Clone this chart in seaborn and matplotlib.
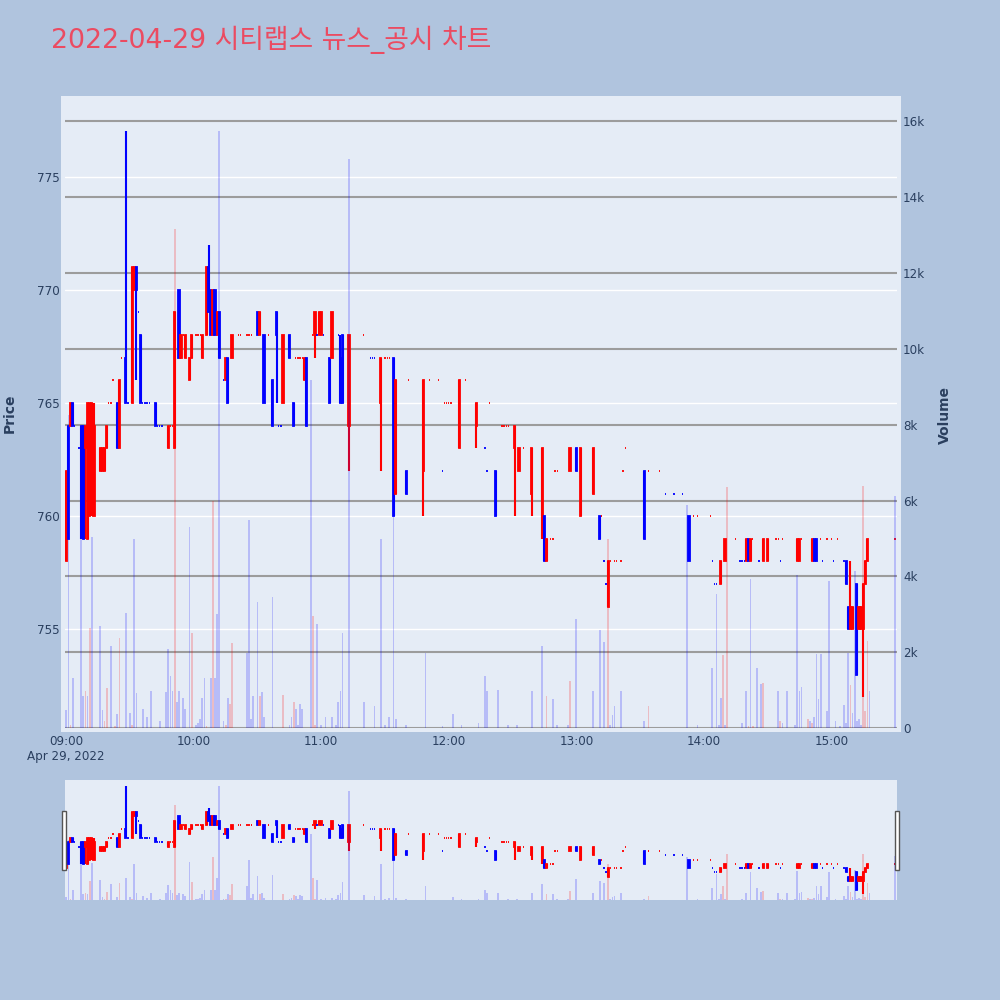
"""
Chart minute 시티랩스 2022-04-29 : chandeliers + volumes + range slider.
"""

import numpy as np
import pandas as pd
import matplotlib
matplotlib.use("Agg")
import matplotlib.pyplot as plt
import seaborn as sns
from matplotlib.patches import Rectangle

# ---------------------------------------------------------------------------
# DONNÉES
# ---------------------------------------------------------------------------

TITLE = "2022-04-29 시티랩스 뉴스_공시 차트"

# minutes depuis 09:00
TICK_MIN = [0, 60, 120, 180, 240, 300, 360]
TICK_LABELS = ["09:00\nApr 29, 2022", "10:00", "11:00", "12:00", "13:00", "14:00", "15:00"]
PRICE_TICKS = [755, 760, 765, 770, 775]
VOL_TICKS = [0, 2000, 4000, 6000, 8000, 10000, 12000, 14000, 16000]
VOL_LABELS = ["0", "2k", "4k", "6k", "8k", "10k", "12k", "14k", "16k"]

c_min = [0, 1, 2, 3, 4, 6, 7, 8, 9, 10,
         11, 12, 13, 16, 17, 18, 19, 20, 21, 22,
         24, 25, 26, 28, 29, 31, 32, 33, 34, 35,
         36, 37, 38, 39, 42, 43, 44, 45, 48, 49,
         50, 51, 53, 54, 55, 56, 58, 59, 61, 62,
         63, 64, 66, 67, 68, 69, 70, 71, 72, 74,
         75, 76, 78, 81, 82, 85, 86, 87, 90, 91,
         93, 95, 97, 99, 100, 101, 102, 105, 107, 108,
         109, 110, 111, 112, 113, 116, 117, 118, 119, 120,
         121, 124, 125, 128, 129, 130, 133, 140, 143, 144,
         145, 148, 150, 151, 152, 154, 155, 160, 161, 168,
         171, 175, 177, 178, 179, 180, 181, 185, 188, 193,
         197, 198, 199, 202, 205, 206, 207, 208, 211, 213,
         215, 219, 224, 225, 226, 228, 229, 230, 231, 237,
         240, 242, 248, 251, 252, 253, 254, 255, 256, 258,
         259, 261, 262, 263, 272, 274, 279, 282, 286, 290,
         293, 295, 297, 303, 304, 305, 306, 308, 310, 315,
         317, 318, 319, 320, 321, 322, 323, 326, 328, 330,
         334, 335, 336, 337, 344, 345, 346, 351, 352, 353,
         355, 356, 358, 360, 361, 363, 366, 367, 368, 369,
         370, 372, 373, 374, 375, 376, 377, 390]
c_open = [758, 764, 764, 765, 764, 763, 764, 764, 763, 759,
          760, 763, 760, 762, 762, 762, 763, 765, 765, 766,
          765, 763, 767, 767, 765, 765, 770, 771, 769, 768,
          765, 765, 765, 765, 765, 764, 764, 764, 763, 764,
          764, 763, 770, 767, 768, 767, 766, 767, 768, 768,
          768, 767, 768, 771, 770, 768, 770, 768, 769, 766,
          766, 767, 767, 768, 768, 768, 768, 768, 769, 768,
          768, 768, 766, 769, 764, 764, 765, 768, 765, 767,
          767, 767, 767, 766, 767, 768, 768, 768, 768, 768,
          768, 767, 767, 768, 767, 768, 764, 768, 767, 767,
          767, 765, 767, 767, 767, 767, 761, 762, 766, 762,
          766, 766, 762, 765, 765, 765, 765, 763, 766, 764,
          763, 762, 765, 762, 764, 764, 764, 764, 763, 762,
          763, 761, 760, 760, 758, 759, 759, 762, 762, 762,
          763, 760, 761, 760, 760, 758, 757, 756, 758, 758,
          758, 758, 762, 763, 762, 762, 762, 761, 761, 761,
          760, 760, 760, 760, 758, 757, 757, 757, 758, 759,
          758, 758, 758, 758, 759, 758, 759, 758, 758, 758,
          759, 759, 758, 759, 758, 758, 759, 758, 759, 759,
          759, 758, 759, 759, 758, 759, 758, 758, 756, 755,
          755, 757, 755, 755, 755, 757, 758, 759]
c_high = [762, 764, 765, 765, 764, 763, 764, 764, 764, 765,
          765, 765, 765, 763, 763, 763, 764, 765, 765, 766,
          765, 766, 767, 777, 765, 771, 771, 771, 769, 768,
          765, 765, 765, 765, 765, 764, 764, 764, 764, 764,
          764, 769, 770, 768, 768, 768, 767, 768, 768, 768,
          768, 768, 771, 772, 770, 770, 770, 769, 769, 766,
          767, 767, 768, 768, 768, 768, 768, 768, 769, 769,
          768, 768, 766, 769, 764, 764, 768, 768, 765, 767,
          767, 767, 767, 767, 767, 768, 769, 768, 769, 769,
          768, 767, 769, 768, 768, 768, 768, 768, 767, 767,
          767, 767, 767, 767, 767, 767, 766, 762, 766, 766,
          766, 766, 762, 765, 765, 765, 765, 766, 766, 765,
          763, 762, 765, 762, 764, 764, 764, 764, 764, 763,
          763, 763, 763, 760, 759, 759, 759, 762, 762, 763,
          763, 763, 763, 760, 760, 758, 757, 758, 758, 758,
          758, 758, 762, 763, 762, 762, 762, 761, 761, 761,
          760, 760, 760, 760, 758, 757, 757, 758, 759, 759,
          758, 758, 758, 759, 759, 759, 759, 758, 759, 759,
          759, 759, 758, 759, 759, 759, 759, 759, 759, 759,
          759, 758, 759, 759, 758, 759, 758, 758, 756, 758,
          756, 757, 756, 756, 757, 758, 759, 759]
c_low = [758, 759, 764, 764, 764, 763, 759, 759, 759, 759,
         760, 760, 760, 762, 762, 762, 763, 765, 765, 766,
         763, 763, 767, 765, 765, 765, 770, 766, 769, 765,
         765, 765, 765, 765, 764, 764, 764, 764, 763, 764,
         764, 763, 767, 767, 768, 767, 766, 767, 768, 768,
         768, 767, 768, 769, 768, 768, 768, 768, 767, 766,
         766, 765, 767, 768, 768, 768, 768, 768, 768, 768,
         765, 768, 764, 765, 764, 764, 765, 767, 764, 767,
         767, 767, 767, 766, 764, 768, 767, 768, 768, 768,
         768, 765, 767, 768, 765, 765, 762, 768, 767, 767,
         767, 762, 767, 767, 767, 760, 761, 761, 766, 760,
         766, 766, 762, 765, 765, 765, 765, 763, 766, 763,
         763, 762, 765, 760, 764, 764, 764, 764, 760, 762,
         763, 760, 759, 758, 758, 759, 759, 762, 762, 762,
         762, 760, 761, 759, 760, 758, 757, 756, 758, 758,
         758, 758, 762, 763, 759, 762, 762, 761, 761, 761,
         758, 760, 760, 760, 758, 757, 757, 757, 758, 759,
         758, 758, 758, 758, 758, 758, 759, 758, 758, 758,
         759, 759, 758, 759, 758, 758, 759, 758, 758, 758,
         759, 758, 759, 759, 758, 759, 758, 757, 755, 755,
         755, 753, 755, 755, 752, 757, 758, 759]
c_close = [762, 759, 765, 764, 764, 763, 760, 759, 764, 765,
           765, 765, 764, 763, 763, 763, 764, 765, 765, 766,
           763, 766, 767, 765, 765, 771, 771, 770, 769, 765,
           765, 765, 765, 765, 764, 764, 764, 764, 764, 764,
           764, 769, 767, 768, 768, 768, 767, 768, 768, 768,
           768, 768, 771, 769, 768, 770, 768, 769, 767, 766,
           767, 765, 768, 768, 768, 768, 768, 768, 768, 769,
           765, 768, 764, 768, 764, 764, 768, 767, 764, 767,
           767, 767, 767, 767, 764, 768, 769, 768, 769, 769,
           768, 765, 769, 768, 765, 765, 768, 768, 767, 767,
           767, 767, 767, 767, 767, 760, 766, 761, 766, 766,
           766, 766, 762, 765, 765, 765, 765, 766, 766, 765,
           763, 762, 765, 760, 764, 764, 764, 764, 764, 763,
           763, 763, 763, 758, 759, 759, 759, 762, 762, 763,
           762, 763, 763, 759, 760, 758, 757, 758, 758, 758,
           758, 758, 762, 763, 759, 762, 762, 761, 761, 761,
           758, 760, 760, 760, 758, 757, 757, 758, 759, 759,
           758, 758, 758, 759, 758, 759, 759, 758, 759, 759,
           759, 759, 758, 759, 759, 759, 759, 759, 758, 758,
           759, 758, 759, 759, 758, 759, 758, 757, 755, 756,
           756, 753, 756, 756, 757, 758, 759, 759]

vol_min = [0, 1, 2, 3, 7, 8, 9, 10, 11, 12,
           16, 17, 18, 19, 21, 23, 24, 25, 28, 30,
           31, 32, 33, 36, 38, 40, 44, 47, 48, 49,
           50, 51, 52, 53, 55, 56, 58, 59, 61, 62,
           63, 64, 65, 66, 68, 69, 70, 71, 72, 74,
           75, 76, 77, 78, 85, 86, 87, 88, 90, 91,
           92, 93, 97, 102, 105, 106, 107, 108, 109, 110,
           111, 115, 116, 117, 118, 120, 122, 125, 127, 128,
           129, 130, 133, 140, 145, 148, 150, 152, 154, 155,
           160, 169, 177, 182, 186, 194, 197, 198, 203, 208,
           212, 219, 224, 226, 229, 231, 236, 237, 240, 248,
           251, 253, 255, 256, 257, 258, 261, 272, 274, 292,
           297, 304, 306, 307, 308, 309, 310, 311, 318, 320,
           321, 322, 323, 325, 327, 328, 335, 336, 337, 339,
           343, 344, 345, 346, 349, 350, 351, 352, 353, 354,
           355, 358, 359, 362, 364, 366, 367, 368, 369, 370,
           371, 372, 373, 374, 375, 376, 377, 378, 390]
vol_val = [475, 8250, 100, 1320, 5480, 850, 985, 850, 2640, 5040,
           2700, 475, 200, 1050, 2160, 60, 370, 2370, 3030, 400,
           100, 4980, 940, 500, 300, 970, 200, 960, 2080, 1390,
           990, 13160, 700, 990, 800, 500, 5300, 2500, 100, 150,
           250, 800, 1320, 60, 1320, 5980, 1320, 3000, 15740, 200,
           100, 790, 650, 2240, 1980, 5480, 250, 850, 3330, 850,
           960, 300, 3460, 890, 100, 300, 700, 500, 100, 650,
           500, 9170, 2970, 100, 2740, 100, 300, 300, 100, 700,
           970, 2500, 14990, 700, 600, 4990, 100, 300, 5560, 250,
           100, 1980, 50, 380, 100, 150, 1390, 990, 1020, 100,
           80, 990, 2170, 850, 760, 80, 100, 1250, 2880, 970,
           2590, 2280, 4990, 100, 350, 580, 990, 200, 580, 5870,
           80, 1600, 3550, 100, 790, 1940, 100, 6350, 150, 970,
           50, 3930, 50, 1590, 1170, 1200, 970, 200, 150, 970,
           100, 4050, 970, 1080, 250, 200, 150, 300, 1950, 760,
           1960, 450, 3870, 200, 50, 610, 150, 1980, 1150, 400,
           4150, 200, 250, 100, 6380, 450, 2300, 970, 6120]
vol_up = [0, 0, 1, 0, 0, 0, 1, 0, 1, 0,
          0, 0, 1, 1, 0, 1, 0, 1, 0, 0,
          1, 0, 0, 0, 0, 0, 0, 0, 0, 0,
          0, 1, 0, 0, 0, 0, 0, 1, 0, 0,
          0, 0, 0, 1, 0, 1, 0, 0, 0, 0,
          1, 0, 1, 1, 0, 0, 0, 0, 0, 1,
          0, 0, 0, 1, 0, 0, 1, 0, 0, 0,
          0, 0, 1, 1, 0, 0, 0, 0, 0, 0,
          0, 0, 0, 0, 0, 0, 0, 0, 0, 0,
          0, 0, 0, 0, 0, 0, 0, 0, 0, 0,
          0, 0, 0, 1, 0, 0, 0, 1, 0, 0,
          0, 0, 1, 0, 0, 0, 0, 0, 1, 0,
          0, 0, 0, 0, 0, 1, 0, 1, 0, 0,
          1, 0, 1, 0, 0, 1, 0, 1, 0, 0,
          0, 0, 0, 0, 1, 0, 1, 0, 0, 0,
          0, 0, 0, 0, 0, 0, 0, 0, 1, 0,
          0, 0, 0, 0, 1, 1, 1, 0, 0]

# ---------------------------------------------------------------------------
# STYLE
# ---------------------------------------------------------------------------

PAPER = "#B0C4DE"
PLOT_BG = "#E5ECF6"
FONT_COL = "#2a3f5f"
UP, DOWN = "#FF0000", "#0000FF"
X_RANGE = (-0.6, 390.9)
P_RANGE = (750.63, 778.41)
V_RANGE = (0, 16565)

sns.set_theme(style="white")
plt.rcParams["font.family"] = ["DejaVu Sans", "Noto Sans CJK KR"]


def statut_hausse(opens, closes):
    """Couleur façon plotly : doji -> comparaison avec la clôture précédente."""
    res, prev_c, prev_s = [], None, True
    for o, c in zip(opens, closes):
        if o != c:
            s = c > o
        elif prev_c is not None and c != prev_c:
            s = c > prev_c
        else:
            s = prev_s
        res.append(s)
        prev_c, prev_s = c, s
    return res


def tracer_bougies(ax):
    hausse = statut_hausse(c_open, c_close)
    cols = [UP if s else DOWN for s in hausse]
    ax.vlines(c_min, c_low, c_high, colors=cols, linewidth=1.5, zorder=2)
    ax.bar(c_min, np.array(c_close) - np.array(c_open), bottom=c_open,
           width=0.6, color=cols, edgecolor=cols, linewidth=1.3, zorder=3)


def tracer_volumes(ax, df):
    sns.barplot(data=df, x="minute", y="volume", hue="dir",
                palette={"up": UP, "down": DOWN}, native_scale=True,
                dodge=False, width=0.8, saturation=1, alpha=0.2,
                errorbar=None, legend=False, linewidth=0, edgecolor="none", ax=ax)
    ax.set_xlabel("")
    ax.set_ylabel("")


vol_df = pd.DataFrame({
    "minute": vol_min,
    "volume": vol_val,
    "dir": ["up" if u else "down" for u in vol_up],
})

fig = plt.figure(figsize=(10, 10), dpi=100, facecolor=PAPER)

# fond de la zone de tracé
bg = fig.add_axes([0.061, 0.2683, 0.840, 0.6357], zorder=0)
bg.set_facecolor(PLOT_BG)
bg.set_xticks([])
bg.set_yticks([])
for s in bg.spines.values():
    s.set_visible(False)

rect = [0.065, 0.2717, 0.832, 0.6288]

# axe volume (grille grise + graduations à droite)
axg = fig.add_axes(rect, zorder=1)
axg.patch.set_visible(False)
axg.set_xlim(*X_RANGE)
axg.set_ylim(*V_RANGE)
axg.set_xticks([])
axg.yaxis.tick_right()
axg.set_yticks(VOL_TICKS, VOL_LABELS)
axg.grid(axis="y", color="#9C9C9C", linewidth=1.5)
axg.tick_params(axis="y", length=0, pad=4.3, labelsize=8.6, colors=FONT_COL)

# axe prix
axp = fig.add_axes(rect, zorder=2)
axp.patch.set_visible(False)
axp.set_xlim(*X_RANGE)
axp.set_ylim(*P_RANGE)
axp.set_yticks(PRICE_TICKS)
axp.grid(axis="y", color="white", linewidth=1.0)
axp.set_xticks(TICK_MIN, TICK_LABELS)
axp.tick_params(axis="both", length=0, labelsize=8.6, colors=FONT_COL)
axp.tick_params(axis="y", pad=3.6)
axp.tick_params(axis="x", pad=5)
tracer_bougies(axp)

# volumes par-dessus
axv = fig.add_axes(rect, zorder=3)
axv.patch.set_visible(False)
tracer_volumes(axv, vol_df)
axv.set_xlim(*X_RANGE)
axv.set_ylim(*V_RANGE)
axv.set_xticks([])
axv.set_yticks([])

for a in (axg, axp, axv):
    for s in a.spines.values():
        s.set_visible(False)

# range slider
srect = [0.065, 0.100, 0.832, 0.120]
asp = fig.add_axes(srect, zorder=1)
asp.set_facecolor(PLOT_BG)
asp.set_xlim(*X_RANGE)
asp.set_ylim(*P_RANGE)
tracer_bougies(asp)
asv = fig.add_axes(srect, zorder=2)
asv.patch.set_visible(False)
tracer_volumes(asv, vol_df)
asv.set_xlim(*X_RANGE)
asv.set_ylim(*V_RANGE)
for a in (asp, asv):
    a.set_xticks([])
    a.set_yticks([])
    a.grid(False)
    for s in a.spines.values():
        s.set_visible(False)

for hx in (0.0618, 0.8946):
    fig.patches.append(Rectangle((hx, 0.130), 0.0045, 0.0593, transform=fig.transFigure,
                                 facecolor="white", edgecolor="#555555", linewidth=1.0,
                                 zorder=5))

fig.text(0.0507, 0.960, TITLE, fontsize=19.3, color="#EB4B61", ha="left", va="center")
fig.text(0.010, 0.587, "Price", rotation=90, fontsize=10, fontweight="bold",
         color=FONT_COL, ha="center", va="center")
fig.text(0.945, 0.585, "Volume", rotation=90, fontsize=10, fontweight="bold",
         color=FONT_COL, ha="center", va="center")

fig.savefig("out.png", dpi=100, facecolor=PAPER)
